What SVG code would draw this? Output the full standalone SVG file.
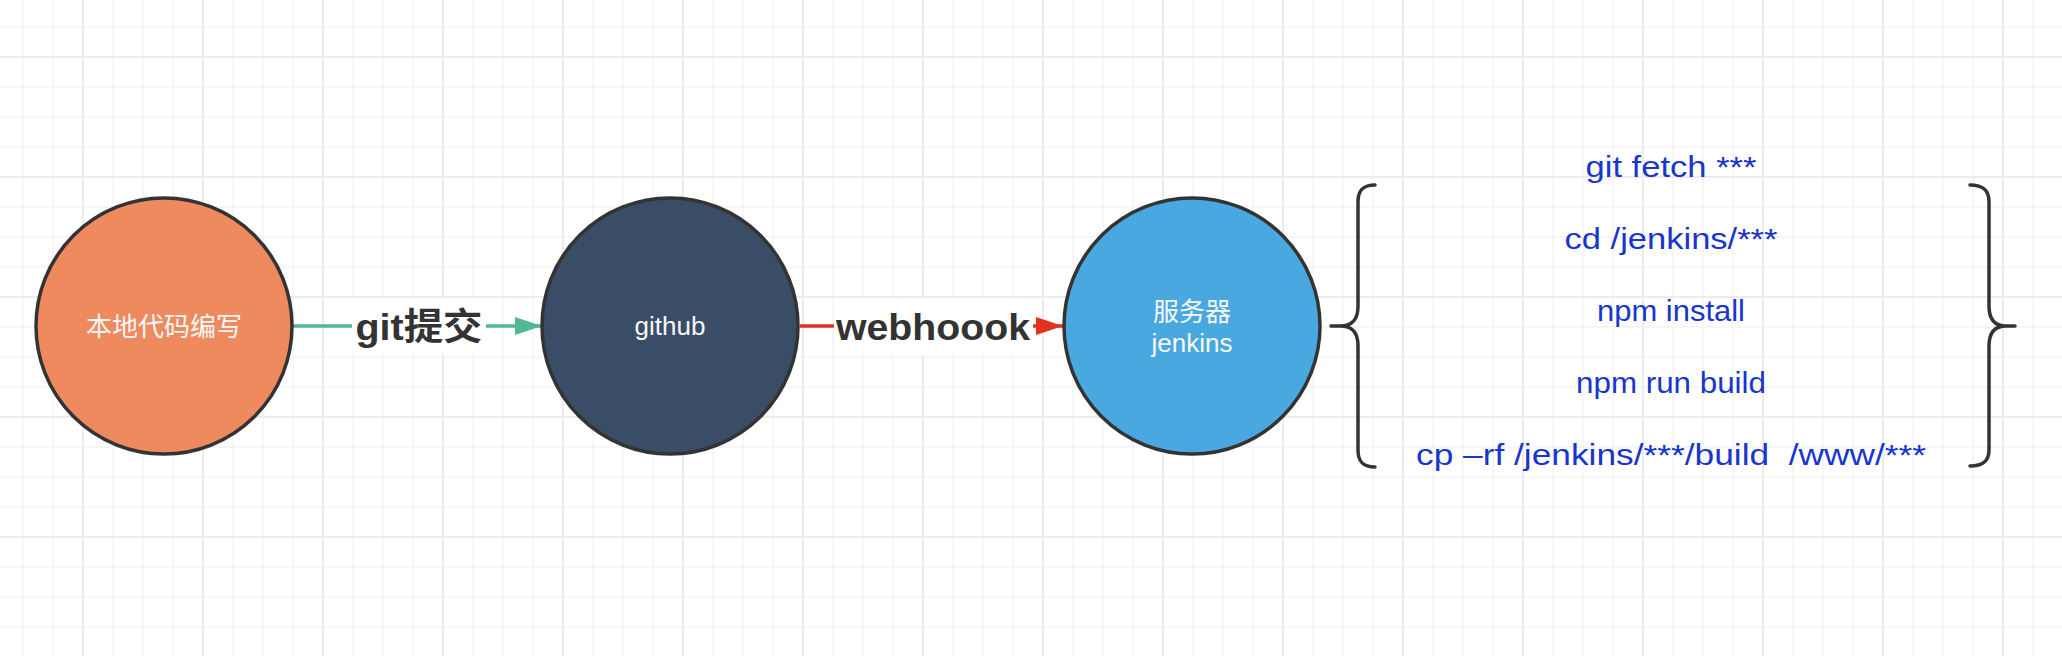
<svg xmlns="http://www.w3.org/2000/svg" width="2062" height="656" viewBox="0 0 2062 656">
  <style>
    .node { stroke: #333333; stroke-width: 3.5; }
    .ntext { font-family: "Liberation Sans", "Noto Sans CJK SC", sans-serif; font-size: 26px; fill: #f7f7f7; text-anchor: middle; }
    .elabel { font-family: "Liberation Sans", "Noto Sans CJK SC", sans-serif; font-weight: bold; font-size: 37px; fill: #333333; text-anchor: middle; }
    .lbg { fill: #ffffff; }
    .cmd { font-family: "Liberation Sans", sans-serif; font-size: 30px; fill: #1836cc; text-anchor: middle; }
    .brace { fill: none; stroke: #333333; stroke-width: 3.5; stroke-linecap: round; }
  </style>
  <defs>
    <pattern id="grid" x="68" y="42" width="120" height="120" patternUnits="userSpaceOnUse">
      <rect x="44.25" y="0" width="1.5" height="120" fill="#f3f3f3"/>
      <rect x="74.25" y="0" width="1.5" height="120" fill="#f3f3f3"/>
      <rect x="104.25" y="0" width="1.5" height="120" fill="#f3f3f3"/>
      <rect x="0" y="44.25" width="120" height="1.5" fill="#f3f3f3"/>
      <rect x="0" y="74.25" width="120" height="1.5" fill="#f3f3f3"/>
      <rect x="0" y="104.25" width="120" height="1.5" fill="#f3f3f3"/>
      <rect x="14" y="0" width="2" height="120" fill="#ececec"/>
      <rect x="0" y="14" width="120" height="2" fill="#ececec"/>
    </pattern>
    <marker id="arrGreen" markerUnits="userSpaceOnUse" markerWidth="28" markerHeight="20" refX="27" refY="9.5" orient="auto">
      <path d="M0,0.5 L27,9.5 L0,18.5 Z" fill="#52b894"/>
    </marker>
    <marker id="arrRed" markerUnits="userSpaceOnUse" markerWidth="28" markerHeight="20" refX="27" refY="9.5" orient="auto">
      <path d="M0,0.5 L27,9.5 L0,18.5 Z" fill="#e2321f"/>
    </marker>
  </defs>

  <rect x="0" y="0" width="2062" height="656" fill="#ffffff"/>
  <rect x="0" y="0" width="2062" height="656" fill="url(#grid)"/>

  <g id="connectors">
    <g id="edge-commit">
      <line x1="292" y1="326" x2="542" y2="326" stroke="#52b894" stroke-width="3.5" marker-end="url(#arrGreen)"/>
      <rect class="lbg" x="352" y="298" width="134" height="56"/>
      <text class="elabel" x="419" y="340" font-family="'Noto Sans CJK SC', sans-serif" font-size="38" textLength="127" lengthAdjust="spacingAndGlyphs">git提交</text>
    </g>
    <g id="edge-webhook">
      <line x1="800" y1="326" x2="1063" y2="326" stroke="#e2321f" stroke-width="3.5" marker-end="url(#arrRed)"/>
      <rect class="lbg" x="834" y="298" width="199" height="57"/>
      <text class="elabel" x="933" y="340" textLength="194" lengthAdjust="spacingAndGlyphs">webhoook</text>
    </g>
  </g>

  <g id="node-local">
    <circle class="node" cx="164" cy="326" r="128" fill="#ef8a5f"/>
    <text class="ntext" x="164" y="336" font-family="'Noto Sans CJK SC', sans-serif">本地代码编写</text>
  </g>

  <g id="node-github">
    <circle class="node" cx="670" cy="326" r="128" fill="#394d67"/>
    <text class="ntext" x="670" y="335" font-size="27">github</text>
  </g>

  <g id="node-jenkins">
    <circle class="node" cx="1192" cy="326" r="128" fill="#4aa8e0"/>
    <text class="ntext" x="1192" y="321" font-family="'Noto Sans CJK SC', sans-serif">服务器</text>
    <text class="ntext" x="1192" y="352">jenkins</text>
  </g>

  <g id="steps">
    <path class="brace" d="M1375,185 C1363,185 1358,190 1358,202 L1358,306 C1358,320 1352,326 1340,326 L1331,326 M1340,326 C1352,326 1358,332 1358,346 L1358,450 C1358,462 1363,467 1375,467"/>
    <path class="brace" d="M1970,185 C1983,185 1989,190 1989,202 L1989,306 C1989,320 1995,326 2006,326 L2015,326 M2006,326 C1995,326 1989,332 1989,346 L1989,450 C1989,461 1983,466 1970,466"/>
    <text class="cmd" x="1671" y="177" textLength="171" lengthAdjust="spacingAndGlyphs">git fetch ***</text>
    <text class="cmd" x="1671" y="249" textLength="213" lengthAdjust="spacingAndGlyphs">cd /jenkins/***</text>
    <text class="cmd" x="1671" y="321" textLength="148" lengthAdjust="spacingAndGlyphs">npm install</text>
    <text class="cmd" x="1671" y="393" textLength="190" lengthAdjust="spacingAndGlyphs">npm run build</text>
    <text class="cmd" x="1671" y="465" textLength="510" lengthAdjust="spacingAndGlyphs" xml:space="preserve">cp –rf /jenkins/***/build  /www/***</text>
  </g>
</svg>
